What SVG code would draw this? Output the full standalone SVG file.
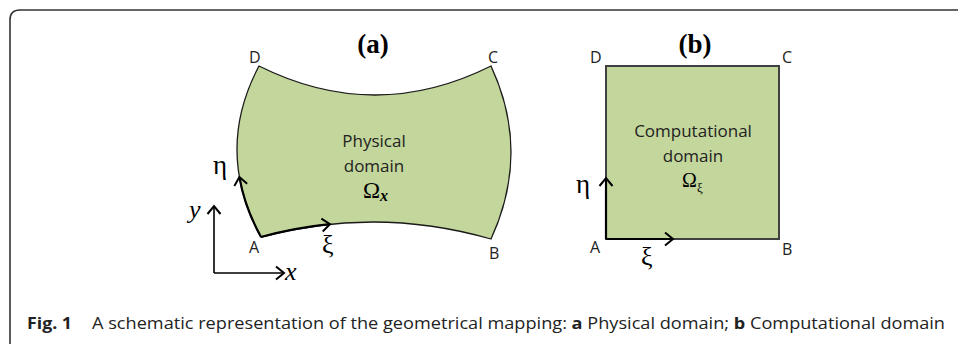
<svg xmlns="http://www.w3.org/2000/svg" width="958" height="344" viewBox="0 0 958 344">
<style>
.frame{fill:none;stroke:#333;stroke-width:1.6}
.shape{fill:#c3d69b;stroke:#1a1a1a;stroke-width:1.3}
.rect{fill:#c3d69b;stroke:#404040;stroke-width:2}
.arr{fill:none;stroke:#000;stroke-width:2.2}
.axis{fill:none;stroke:#000;stroke-width:1.6}
.lbl{font-family:"Open Sans","Noto Sans",sans-serif;font-size:16px;fill:#222}
.body{font-family:"Open Sans","Noto Sans",sans-serif;font-size:17px;fill:#222;text-anchor:middle}
.title{font-family:"Liberation Serif",serif;font-size:27px;font-weight:bold;fill:#000;text-anchor:middle}
.greek{font-family:"Liberation Serif","DejaVu Serif",serif;fill:#000}
.cap{font-family:"Open Sans","Noto Sans",sans-serif;font-size:16px;fill:#222}
.b{font-weight:bold}
</style>
<defs>
<marker id="chev" markerUnits="userSpaceOnUse" markerWidth="20" markerHeight="20" refX="0" refY="0" viewBox="-10 -10 20 20" orient="auto" overflow="visible">
<path d="M-8,-6.5 L0,0 L-8,6.5" fill="none" stroke="#000" stroke-width="2"/>
</marker>
</defs>
<path class="frame" d="M10,344 L10,20 Q10,10 20,10 L958,10"/>

<g id="panel-a">
<path class="shape" d="M259,66 Q375,124 491,66 Q531,152 491,239 Q376,206 261,237 Q214,151 259,66 Z"/>
<text class="title" x="373" y="53">(a)</text>
<text class="lbl" x="249" y="63">D</text>
<text class="lbl" x="488" y="63">C</text>
<text class="lbl" x="249" y="253">A</text>
<text class="lbl" x="489" y="259">B</text>
<text class="body" x="374" y="147">Physical</text>
<text class="body" x="374" y="172">domain</text>
<text class="greek" x="363" y="198" font-size="23">Ω<tspan font-size="16" font-style="italic" font-weight="bold" dy="3">x</tspan></text>
</g>

<g id="panel-b">
<rect class="rect" x="606" y="66" width="173" height="173"/>
<text class="title" x="695" y="53">(b)</text>
<text class="lbl" x="590" y="63">D</text>
<text class="lbl" x="782" y="63">C</text>
<text class="lbl" x="590" y="253">A</text>
<text class="lbl" x="782" y="255">B</text>
<text class="body" x="693" y="137">Computational</text>
<text class="body" x="693" y="162">domain</text>
<text class="greek" x="682" y="187" font-size="20">Ω<tspan font-size="13" dy="5">ξ</tspan></text>
</g>

<g id="connectors">
<path class="arr" d="M261,237 Q244.5,207 239.4,177" marker-end="url(#chev)"/>
<path class="arr" d="M261,237 Q295.5,227.7 330,224.2" marker-end="url(#chev)"/>
<path class="axis" d="M214,273 L214,206" marker-end="url(#chev)"/>
<path class="axis" d="M214,273 L284,273" marker-end="url(#chev)"/>
<path class="arr" d="M606,239 L606,178" marker-end="url(#chev)"/>
<path class="arr" d="M606,239 L673,239" marker-end="url(#chev)"/>
</g>

<g id="labels-greek">
<text class="greek" x="213" y="174" font-size="27">η</text>
<text class="greek" x="322" y="253" font-size="26">ξ</text>
<text class="greek" x="189" y="218" font-size="26" font-style="italic">y</text>
<text class="greek" x="285" y="280" font-size="26" font-style="italic">x</text>
<text class="greek" x="576" y="193" font-size="27">η</text>
<text class="greek" x="641" y="265" font-size="26">ξ</text>
</g>

<g id="caption">
<text class="cap b" x="27" y="329" textLength="45" lengthAdjust="spacingAndGlyphs">Fig. 1</text>
<text class="cap" x="92" y="329" textLength="853" lengthAdjust="spacingAndGlyphs">A schematic representation of the geometrical mapping: <tspan class="b">a</tspan> Physical domain; <tspan class="b">b</tspan> Computational domain</text>
</g>
</svg>
